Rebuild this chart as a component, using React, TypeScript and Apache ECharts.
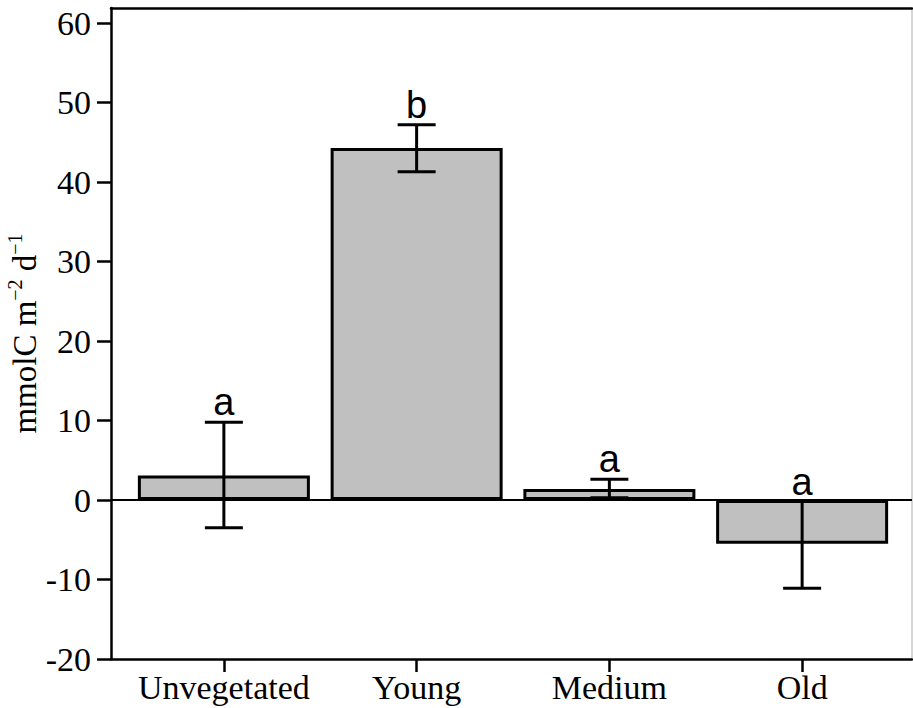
import React, { useEffect, useRef } from "react";
import * as echarts from "echarts";

// Sites along the vegetation age gradient
const categories = ["Unvegetated", "Young", "Medium", "Old"];
// Mean net flux (mmolC m-2 d-1) and error bar limits
const means = [3.1, 44.3, 1.4, -5.5];
const errLow = [-3.5, 41.3, 0.3, -11.1];
const errHigh = [9.8, 47.2, 2.6, -0.2];
// Post-hoc grouping letters
const groupLetters = ["a", "b", "a", "a"];
// Y axis tick values
const yTicks = [-20, -10, 0, 10, 20, 30, 40, 50, 60];

const Y_MIN = -20;
const Y_MAX = 61.9;
const SERIF = '"Liberation Serif", "Times New Roman", serif';
const SANS = '"Liberation Sans", Arial, sans-serif';

export default function App() {
  const ref = useRef<HTMLDivElement>(null);

  useEffect(() => {
    if (!ref.current) return;
    const chart = echarts.init(ref.current, null, { renderer: "svg" });

    const errData = categories.map((_, i) => [i, errLow[i], errHigh[i]]);

    chart.setOption({
      animation: false,
      backgroundColor: "#fff",
      grid: [
        { left: 111, right: 1, top: 8, bottom: 49, containLabel: false, outerBoundsMode: "none" },
        { left: 127.5, right: 14.5, top: 8, bottom: 49, containLabel: false, outerBoundsMode: "none" },
      ],
      xAxis: [
        {
          gridIndex: 0,
          type: "value",
          min: 0,
          max: 1,
          position: "bottom",
          axisLine: { show: true, onZero: false, lineStyle: { color: "#000", width: 2.5 } },
          axisTick: { show: false },
          axisLabel: { show: false },
          splitLine: { show: false },
        },
        {
          gridIndex: 0,
          type: "value",
          min: 0,
          max: 1,
          position: "top",
          axisLine: { show: true, onZero: false, lineStyle: { color: "#000", width: 2.5 } },
          axisTick: { show: false },
          axisLabel: { show: false },
          splitLine: { show: false },
        },
        {
          gridIndex: 1,
          type: "category",
          data: categories,
          position: "bottom",
          axisLine: { show: false, onZero: false },
          axisTick: {
            show: true,
            alignWithLabel: true,
            interval: 0,
            length: 13,
            lineStyle: { color: "#000", width: 2.5 },
          },
          axisLabel: { interval: 0, fontSize: 34, fontFamily: SERIF, color: "#000", margin: 11 },
          splitLine: { show: false },
        },
      ],
      yAxis: [
        {
          gridIndex: 0,
          type: "value",
          min: Y_MIN,
          max: Y_MAX,
          position: "left",
          axisLine: { show: true, onZero: false, lineStyle: { color: "#000", width: 2.5 } },
          axisTick: {
            show: true,
            customValues: yTicks,
            length: 14,
            lineStyle: { color: "#000", width: 2.5 },
          },
          axisLabel: {
            customValues: yTicks,
            fontSize: 34,
            fontFamily: SERIF,
            color: "#000",
            margin: 20,
          },
          splitLine: { show: false },
          name: "{a|mmolC m}{s|−2}{a| d}{s|−1}",
          nameLocation: "middle",
          nameRotate: 90,
          nameGap: 70,
          nameMoveOverlap: false,
          nameTextStyle: {
            rich: {
              a: { fontSize: 33, fontFamily: SERIF, color: "#000", lineHeight: 36, verticalAlign: "bottom" },
              s: { fontSize: 20, fontFamily: SERIF, color: "#000", lineHeight: 36, verticalAlign: "top" },
            },
          },
        },
        {
          gridIndex: 0,
          type: "value",
          min: Y_MIN,
          max: Y_MAX,
          position: "right",
          axisLine: { show: true, onZero: false, lineStyle: { color: "#c8c8c8", width: 1.5 } },
          axisTick: { show: false },
          axisLabel: { show: false },
          splitLine: { show: false },
        },
        {
          gridIndex: 1,
          type: "value",
          min: Y_MIN,
          max: Y_MAX,
          show: false,
          splitLine: { show: false },
        },
      ],
      series: [
        {
          // zero reference line across the frame
          type: "line",
          xAxisIndex: 0,
          yAxisIndex: 0,
          data: [
            [0, 0],
            [1, 0],
          ],
          symbol: "none",
          silent: true,
          lineStyle: { color: "#000", width: 2 },
          z: 1,
        },
        {
          type: "bar",
          xAxisIndex: 2,
          yAxisIndex: 2,
          data: means,
          barWidth: 172,
          itemStyle: { color: "#c0c0c0", borderColor: "#000", borderWidth: 3 },
          z: 2,
        },
        {
          type: "custom",
          xAxisIndex: 2,
          yAxisIndex: 2,
          data: errData,
          encode: { x: 0, y: [1, 2] },
          z: 3,
          renderItem: (params: any, api: any) => {
            const i = api.value(0);
            const pHi = api.coord([i, api.value(2)]);
            const pLo = api.coord([i, api.value(1)]);
            const x = pHi[0];
            const half = 19;
            const stroke = { stroke: "#000", lineWidth: 3 };
            return {
              type: "group",
              children: [
                { type: "line", shape: { x1: x, y1: pHi[1], x2: x, y2: pLo[1] }, style: stroke },
                { type: "line", shape: { x1: x - half, y1: pHi[1], x2: x + half, y2: pHi[1] }, style: stroke },
                { type: "line", shape: { x1: x - half, y1: pLo[1], x2: x + half, y2: pLo[1] }, style: stroke },
                {
                  type: "text",
                  x,
                  y: pHi[1] - 1,
                  style: {
                    text: groupLetters[params.dataIndex],
                    align: "center",
                    verticalAlign: "bottom",
                    fontSize: 38,
                    fontFamily: SANS,
                    fill: "#000",
                  },
                },
              ],
            };
          },
        },
      ],
    });

    return () => chart.dispose();
  }, []);

  return (
    <div
      ref={ref}
      style={{ position: "absolute", left: 0, top: 0, width: 913, height: 708, background: "#fff" }}
    />
  );
}
